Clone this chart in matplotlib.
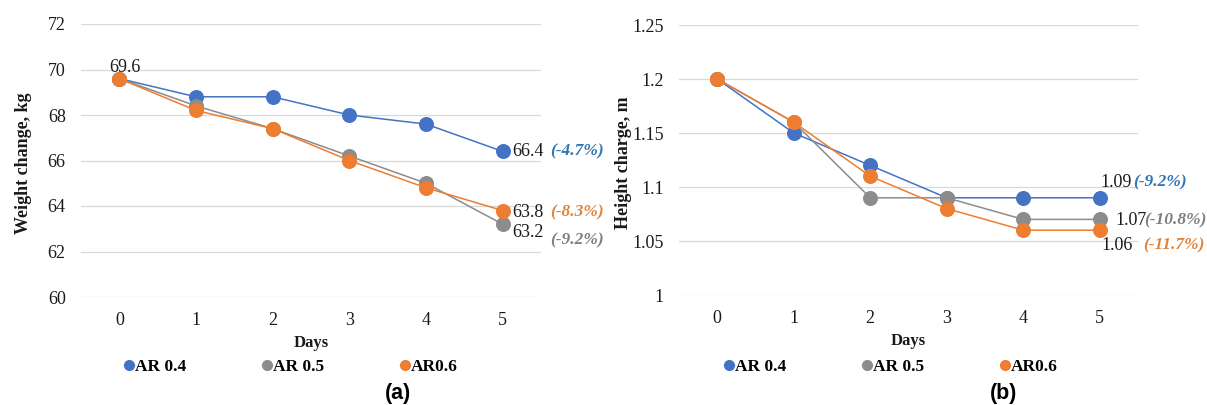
import matplotlib
matplotlib.use("Agg")
import matplotlib.pyplot as plt
from matplotlib.lines import Line2D

plt.rcParams["font.family"] = ["Liberation Serif", "DejaVu Serif"]

days = [0, 1, 2, 3, 4, 5]
series_names = ["AR 0.4", "AR 0.5", "AR0.6"]
colors = ["#4472C4", "#8C8C8C", "#ED7D31"]
pct_colors = ["#2E75B6", "#7F7F7F", "#E0843A"]

weight_ar04 = [69.6, 68.8, 68.8, 68.0, 67.6, 66.4]
weight_ar05 = [69.6, 68.4, 67.4, 66.2, 65.0, 63.2]
weight_ar06 = [69.6, 68.2, 67.4, 66.0, 64.8, 63.8]
weight_pct = ["(-4.7%)", "(-9.2%)", "(-8.3%)"]
weight_ticks = [60, 62, 64, 66, 68, 70, 72]

height_ar04 = [1.20, 1.15, 1.12, 1.09, 1.09, 1.09]
height_ar05 = [1.20, 1.16, 1.09, 1.09, 1.07, 1.07]
height_ar06 = [1.20, 1.16, 1.11, 1.08, 1.06, 1.06]
height_pct = ["(-9.2%)", "(-10.8%)", "(-11.7%)"]
height_ticks = [1.0, 1.05, 1.1, 1.15, 1.2, 1.25]
height_ticklabels = ["1", "1.05", "1.1", "1.15", "1.2", "1.25"]

TEXT = "#1a1a1a"
W, H = 1207, 405


def style_axes(ax, ticks, ticklabels, ylabel, ylabel_x):
    for s in ax.spines.values():
        s.set_visible(False)
    ax.set_xlim(-0.5, 5.5)
    ax.set_ylim(ticks[0], ticks[-1])
    ax.set_yticks(ticks)
    ax.set_yticklabels(ticklabels)
    ax.set_xticks(days)
    ax.tick_params(length=0, labelsize=13, colors=TEXT, pad=11)
    ax.grid(True, axis="y", color="#d9d9d9", linewidth=0.9)
    ax.set_axisbelow(True)
    ax.set_xlabel("Days", fontsize=12, fontweight="bold", color=TEXT, labelpad=4)
    ax.set_ylabel(ylabel, fontsize=13, fontweight="bold", color=TEXT, va="center")
    ax.yaxis.set_label_coords(ylabel_x, 0.49)


def draw_series(ax, series):
    for vals, c in zip(series, colors):
        ax.plot(days, vals, color=c, linewidth=1.1, marker="o", markersize=10.8,
                markeredgewidth=0, zorder=3)


def add_legend(fig, xc):
    handles = [Line2D([], [], color=c, marker="o", markersize=8, linewidth=1.0,
                      markeredgewidth=0) for c in colors]
    fig.legend(handles, series_names, loc="center", ncol=3, frameon=False,
               bbox_to_anchor=(xc / W, 1 - 367 / H), prop={"weight": "bold", "size": 12.5},
               handlelength=0.6, handletextpad=0.05, columnspacing=4.35)


fig = plt.figure(figsize=(W / 100, H / 100), dpi=100)
ax1 = fig.add_axes([81 / W, 1 - 297 / H, 460 / W, 273 / H])
ax2 = fig.add_axes([679 / W, 1 - 295 / H, 459 / W, 270 / H])

# (a) weight
style_axes(ax1, weight_ticks, [str(t) for t in weight_ticks], "Weight change, kg", -0.124)
weights = [weight_ar04, weight_ar05, weight_ar06]
draw_series(ax1, weights)
ax1.annotate(f"{weight_ar04[0]:.1f}", (0, weight_ar04[0]), xytext=(4, 8),
             textcoords="offset points", ha="center", va="center", fontsize=13, color=TEXT)
for vals, pct, pc, (dy_num, dy_pct) in zip(weights, weight_pct, pct_colors,
                                           [(0, 0), (-6, -12), (-1.5, -1.5)]):
    ax1.annotate(f"{vals[-1]:.1f}", (5, vals[-1]), xytext=(7, dy_num),
                 textcoords="offset points", ha="left", va="center", fontsize=13, color=TEXT)
    ax1.annotate(pct, (5, vals[-1]), xytext=(34, dy_pct), textcoords="offset points",
                 ha="left", va="center", fontsize=12.5, color=pc,
                 fontweight="bold", fontstyle="italic")

# (b) height
style_axes(ax2, height_ticks, height_ticklabels, "Height charge, m", -0.122)
heights = [height_ar04, height_ar05, height_ar06]
draw_series(ax2, heights)
h_offsets = [(0.5, 11, 24), (11, -1, 32), (1.5, -11, 31)]
for vals, pct, pc, (dx, dy, dxp) in zip(heights, height_pct, pct_colors, h_offsets):
    ax2.annotate(f"{vals[-1]:.2f}", (5, vals[-1]), xytext=(dx, dy),
                 textcoords="offset points", ha="left", va="center", fontsize=13, color=TEXT)
    ax2.annotate(pct, (5, vals[-1]), xytext=(dxp, dy), textcoords="offset points",
                 ha="left", va="center", fontsize=12.5, color=pc,
                 fontweight="bold", fontstyle="italic")

add_legend(fig, 291)
add_legend(fig, 891)

fig.text(398 / W, 1 - 394 / H, "(a)", family="Liberation Sans", fontweight="bold",
         fontsize=15.5, ha="center", va="center")
fig.text(1004 / W, 1 - 394 / H, "(b)", family="Liberation Sans", fontweight="bold",
         fontsize=15.5, ha="center", va="center")

fig.savefig("out.png", dpi=100)
